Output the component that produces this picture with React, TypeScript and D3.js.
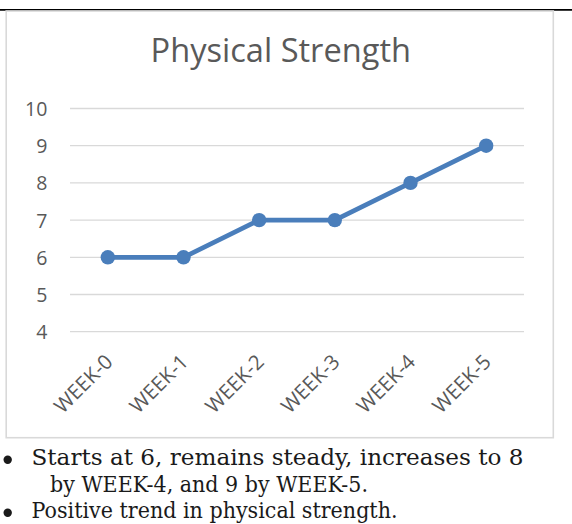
import React from "react";
import * as d3 from "d3";

const categories: string[] = ["WEEK-0", "WEEK-1", "WEEK-2", "WEEK-3", "WEEK-4", "WEEK-5"];
const values: number[] = [6, 6, 7, 7, 8, 9];
const yTicks: number[] = [4, 5, 6, 7, 8, 9, 10];
const title = "Physical Strength";
const bulletLines: { text: string; bullet: boolean; x: number; len: number }[] = [
  { text: "Starts at 6, remains steady, increases to 8", bullet: true, x: 31.5, len: 492 },
  { text: "by WEEK-4, and 9 by WEEK-5.", bullet: false, x: 50, len: 318 },
  { text: "Positive trend in physical strength.", bullet: true, x: 31.5, len: 366 },
];

const W = 572;
const H = 524;
const BLUE = "#4a7ebb";
const GRID = "#d9d9d9";
const TXT = "#595959";
const SANS = "'Open Sans', 'Noto Sans', sans-serif";
const SERIF = "'DejaVu Serif', 'Liberation Serif', serif";

export default function App() {
  const x = d3.scaleBand<string>().domain(categories).range([70, 524]).padding(0);
  const y = d3.scaleLinear().domain([4, 10]).range([331.7, 108.5]);
  const cx = (c: string) => (x(c) as number) + x.bandwidth() / 2;
  const line = d3
    .line<number>()
    .x((_, i) => cx(categories[i]))
    .y((d) => y(d));

  return (
    <div style={{ position: "absolute", left: 0, top: 0 }}>
      <svg width={W} height={H} style={{ display: "block", background: "#fff" }}>
        <rect x={0} y={0} width={W} height={H} fill="#fff" />
        <line x1={0} x2={W} y1={9.8} y2={9.8} stroke="#000" strokeWidth={1.8} />
        <rect x={6.2} y={11} width={547.1} height={426.7} fill="#fff" stroke={GRID} strokeWidth={1.6} />
        <text
          x={280.8}
          y={61.7}
          textAnchor="middle"
          fontFamily={SANS}
          fontSize={32.6}
          fill={TXT}
        >
          {title}
        </text>
        {yTicks.map((t) => (
          <g key={t}>
            <line x1={70} x2={524} y1={y(t)} y2={y(t)} stroke={GRID} strokeWidth={1.3} />
            <text
              x={47.3}
              y={y(t)}
              textAnchor="end"
              dominantBaseline="central"
              fontFamily={SANS}
              fontSize={19.5}
              fill={TXT}
            >
              {t}
            </text>
          </g>
        ))}
        {categories.map((c) => (
          <text
            key={c}
            transform={`translate(${cx(c) + 0.5},${357.5}) rotate(-45)`}
            textAnchor="end"
            dominantBaseline="central"
            fontFamily={SANS}
            fontSize={20.5}
            fill={TXT}
          >
            {c}
          </text>
        ))}
        <path
          d={line(values) || ""}
          fill="none"
          stroke={BLUE}
          strokeWidth={4.8}
          strokeLinejoin="round"
          strokeLinecap="round"
        />
        {values.map((v, i) => (
          <circle key={i} cx={cx(categories[i])} cy={y(v)} r={7.2} fill={BLUE} />
        ))}
        {bulletLines.map((b, i) => {
          const base = 465 + i * 26.5;
          return (
            <g key={i}>
              {b.bullet && <circle cx={7.7} cy={base - 5.2} r={4.2} fill="#1a1a1a" />}
              <text
                x={b.x}
                y={base}
                fontFamily={SERIF}
                fontSize={21.5}
                fill="#1a1a1a"
                textLength={b.len}
                lengthAdjust="spacingAndGlyphs"
              >
                {b.text}
              </text>
            </g>
          );
        })}
      </svg>
    </div>
  );
}
